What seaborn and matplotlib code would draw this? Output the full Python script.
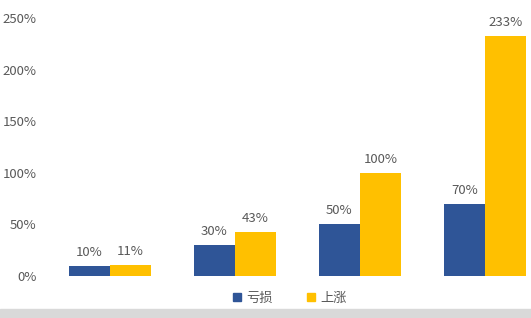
import matplotlib
matplotlib.use("Agg")
import matplotlib.pyplot as plt
import matplotlib.patches as mpatches
import seaborn as sns
import pandas as pd
from matplotlib.ticker import FuncFormatter

categories = ["A", "B", "C", "D"]
series_names = ["亏损", "上涨"]
loss_values = [10, 30, 50, 70]
gain_values = [11, 43, 100, 233]
colors = ["#2F5597", "#FFC000"]
y_ticks = [0, 50, 100, 150, 200, 250]

df = pd.DataFrame({
    "cat": categories * 2,
    "series": [series_names[0]] * 4 + [series_names[1]] * 4,
    "value": loss_values + gain_values,
})

sns.set_theme(style="white")
plt.rcParams['font.family'] = ['Noto Sans CJK SC', 'DejaVu Sans']
text_color = "#595959"

fig = plt.figure(figsize=(5.31, 3.18), dpi=100)
W, H = 531, 318
ax = fig.add_axes([47.5 / W, (H - 276) / H, 500 / W, 258 / H])

sns.barplot(data=df, x="cat", y="value", hue="series", palette=colors,
            width=0.656, gap=0, ax=ax, legend=False, saturation=1, linewidth=0)

for c in ax.containers:
    ax.bar_label(c, labels=[f"{v:.0f}%" for v in c.datavalues], padding=5,
                 fontsize=9.5, color=text_color)

ax.set_ylim(0, 250)
ax.set_xlim(-0.5, 3.5)
ax.set_yticks(y_ticks)
ax.yaxis.set_major_formatter(FuncFormatter(lambda v, p: f"{v:.0f}%"))
ax.tick_params(axis="y", length=0, labelsize=9.5, labelcolor=text_color, pad=8)
ax.set_xticks([])
ax.set_xlabel("")
ax.set_ylabel("")
for s in ax.spines.values():
    s.set_visible(False)

handles = [mpatches.Patch(color=colors[i], label=series_names[i]) for i in range(2)]
leg = fig.legend(handles=handles, loc="center", bbox_to_anchor=(290 / W, (H - 298) / H),
                 ncol=2, frameon=False, fontsize=9.5, handlelength=0.6, handleheight=0.6,
                 handletextpad=0.4, columnspacing=2.6)
for t in leg.get_texts():
    t.set_color(text_color)

fig.patches.append(mpatches.Rectangle((0, 0), 1, 9 / H, transform=fig.transFigure,
                                      color="#D9D9D9", zorder=0))

fig.savefig("out.png", dpi=100)
